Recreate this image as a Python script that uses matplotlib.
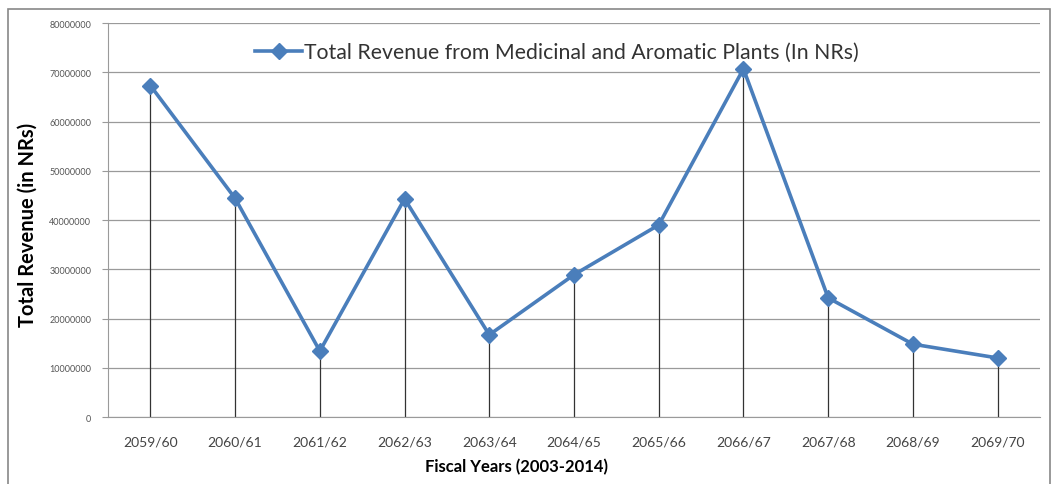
import numpy as np
import matplotlib.pyplot as plt
from matplotlib.patches import Rectangle

years = ["2059/60", "2060/61", "2061/62", "2062/63", "2063/64", "2064/65",
         "2065/66", "2066/67", "2067/68", "2068/69", "2069/70"]
revenue = [67300000, 44400000, 13400000, 44300000, 16700000, 28900000,
           39000000, 70700000, 24200000, 14800000, 12000000]
yticks = [0, 10000000, 20000000, 30000000, 40000000, 50000000,
          60000000, 70000000, 80000000]

plt.rcParams["font.family"] = ["Lato", "DejaVu Sans"]

fig = plt.figure(figsize=(10.54, 4.85), dpi=100)
ax = fig.add_axes([0.1025, 0.138, 0.8842, 0.8125])

x = np.arange(len(years))
blue = "#4a7ebb"

# drop lines from every point down to the axis
ax.vlines(x, 0, revenue, color="#333333", linewidth=0.9, zorder=2)
ax.plot(x, revenue, color=blue, linewidth=2.6, marker="D", markersize=8.5,
        markerfacecolor=blue, markeredgecolor=blue, zorder=3,
        label="Total Revenue from Medicinal and Aromatic Plants (In NRs)")

ax.set_xlim(-0.5, len(years) - 0.5)
ax.set_ylim(0, 80000000)
ax.set_yticks(yticks)
ax.set_yticklabels([str(v) for v in yticks], fontsize=6.5, color="#555555")
ax.set_xticks(x)
ax.set_xticklabels(years, fontsize=10, color="#444444")
ax.yaxis.grid(True, color="#9a9a9a", linewidth=0.9)
ax.set_axisbelow(True)
ax.tick_params(axis="x", length=0, pad=13)
ax.tick_params(axis="y", length=4, color="#9a9a9a", pad=8)
for side in ["top", "right"]:
    ax.spines[side].set_visible(False)
ax.spines["left"].set_color("#9a9a9a")
ax.spines["bottom"].set_color("#9a9a9a")

ax.set_ylabel("Total Revenue (in NRs)", fontsize=14.5, fontweight="bold")
ax.yaxis.set_label_coords(-0.076, 0.49)
ax.set_xlabel("Fiscal Years (2003-2014)", fontsize=12, fontweight="bold")
ax.xaxis.set_label_coords(0.438, -0.105)

leg = ax.legend(loc="upper center", bbox_to_anchor=(0.482, 1.0), frameon=False,
                fontsize=15.3, handlelength=2.2, handletextpad=0.1)
for t in leg.get_texts():
    t.set_color("#333333")

# outer chart border
fig.patches.append(Rectangle((0.008, -0.01), 0.988, 0.99, transform=fig.transFigure,
                             fill=False, edgecolor="#888888", linewidth=1.2))

fig.savefig("out.png", dpi=100)
